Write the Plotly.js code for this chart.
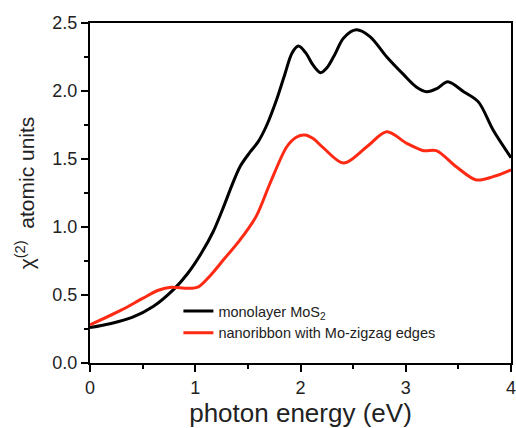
<!DOCTYPE html>
<html>
<head>
<meta charset="utf-8">
<script src="https://cdn.plot.ly/plotly-3.0.1.min.js"></script>
<style>html,body{margin:0;padding:0;background:#fff;}#chart{width:516px;height:428px;}</style>
</head>
<body>
<div id="chart"></div>
<script>
// photon energy (eV) and chi(2) in atomic units
const monoX = [0, 0.2, 0.4, 0.6, 0.8, 0.93, 1.06, 1.17, 1.27, 1.35, 1.43, 1.52, 1.6, 1.68, 1.77, 1.85, 1.92, 1.98, 2.05, 2.12, 2.19, 2.25, 2.32, 2.41, 2.53, 2.66, 2.82, 2.98, 3.1, 3.2, 3.3, 3.4, 3.55, 3.69, 3.83, 4.0];
const monoY = [0.26, 0.29, 0.335, 0.415, 0.545, 0.66, 0.81, 0.965, 1.15, 1.31, 1.45, 1.55, 1.63, 1.75, 1.93, 2.12, 2.28, 2.33, 2.28, 2.19, 2.135, 2.17, 2.26, 2.39, 2.45, 2.40, 2.25, 2.12, 2.03, 1.995, 2.02, 2.068, 1.995, 1.92, 1.713, 1.51];
const ribbonX = [0, 0.3, 0.5, 0.65, 0.77, 0.93, 1.03, 1.14, 1.28, 1.42, 1.58, 1.71, 1.87, 1.96, 2.04, 2.12, 2.22, 2.41, 2.63, 2.82, 3.01, 3.17, 3.29, 3.48, 3.67, 3.83, 4.0];
const ribbonY = [0.28, 0.39, 0.475, 0.535, 0.557, 0.549, 0.56, 0.64, 0.77, 0.90, 1.08, 1.32, 1.59, 1.66, 1.676, 1.65, 1.58, 1.47, 1.59, 1.70, 1.615, 1.561, 1.561, 1.443, 1.346, 1.37, 1.42];
const seriesNames = ["monolayer MoS<sub>2</sub>", "nanoribbon with Mo-zigzag edges"];
const xTitle = "photon energy (eV)";
const yTitle = "χ<sup>(2)</sup>  atomic units";

const traces = [
  {x: monoX, y: monoY, name: seriesNames[0], mode: "lines",
   line: {color: "#000000", width: 3, shape: "spline", smoothing: 0.9}},
  {x: ribbonX, y: ribbonY, name: seriesNames[1], mode: "lines",
   line: {color: "#ff2a14", width: 3, shape: "spline", smoothing: 0.9}}
];

const axisCommon = {
  showline: true, linecolor: "#000", linewidth: 2, mirror: true,
  ticks: "outside", ticklen: 7, tickwidth: 2, tickcolor: "#000",
  showgrid: false, zeroline: false, ticklabeloverflow: "allow",
  tickfont: {family: "Liberation Sans, Arial, sans-serif", size: 18, color: "#222"}
};

const layout = {
  width: 516, height: 428,
  margin: {l: 90, r: 5, t: 23, b: 65},
  paper_bgcolor: "#ffffff", plot_bgcolor: "#ffffff",
  showlegend: true,
  legend: {x: 0.21, y: 0.2, xanchor: "left", yanchor: "top", bgcolor: "rgba(0,0,0,0)",
           font: {family: "Liberation Sans, Arial, sans-serif", size: 14.5, color: "#222"}},
  xaxis: Object.assign({}, axisCommon, {
    range: [0, 4], dtick: 1, tick0: 0,
    minor: {ticks: "outside", ticklen: 4, tickwidth: 2, tickcolor: "#000", dtick: 0.5, tick0: 0},
    title: {text: xTitle, font: {family: "Liberation Sans, Arial, sans-serif", size: 26, color: "#222"}, standoff: 4}
  }),
  yaxis: Object.assign({}, axisCommon, {
    range: [0, 2.5], dtick: 0.5, tick0: 0, tickformat: ".1f",
    minor: {ticks: "outside", ticklen: 4, tickwidth: 2, tickcolor: "#000", dtick: 0.25, tick0: 0},
    title: {text: yTitle, font: {family: "Liberation Sans, Arial, sans-serif", size: 21, color: "#222"}, standoff: 12}
  })
};

Plotly.newPlot("chart", traces, layout, {displayModeBar: false, staticPlot: true});
</script>
</body>
</html>
